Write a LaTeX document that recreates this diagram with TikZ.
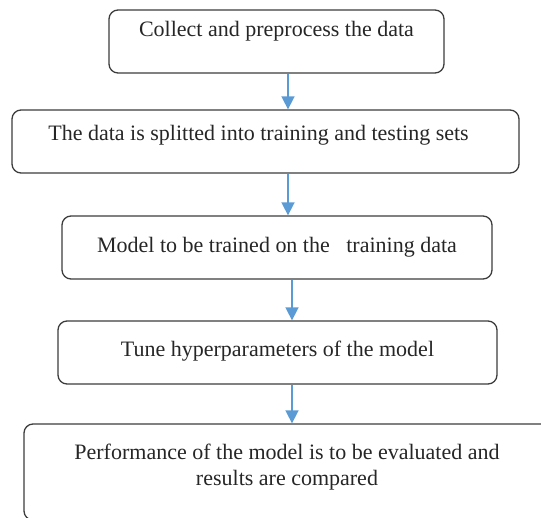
\documentclass[tikz,border=0pt]{standalone}
\usepackage{fontspec}
\setmainfont{Liberation Serif}
\usetikzlibrary{positioning,arrows.meta}
\definecolor{flowblue}{HTML}{5B9BD5}
\definecolor{boxgray}{HTML}{3C3C3C}
\definecolor{txtgray}{HTML}{262626}
\tikzset{
  procbox/.style={draw=boxgray,rounded corners=9pt,line width=1.3pt,
    minimum height=63pt,inner sep=0pt,text=txtgray,align=center,
    font=\fontsize{22}{26}\selectfont},
  flow/.style={-{Triangle[length=13pt,width=13pt]},draw=flowblue,
    line width=1.6pt},
}
\begin{document}
\begin{tikzpicture}[x=1pt,y=-1pt]
  \path[use as bounding box,clip] (0,0) rectangle (541,517);
  % the five steps
  \node[procbox,minimum width=335pt,text depth=25pt] (collect) at (276.5,41.5)
    {Collect and preprocess the data};
  \node[procbox,minimum width=507pt,text depth=17pt] (split) at (265.5,141.5)
    {The data is splitted into training and testing sets\hspace{14pt}};
  \node[procbox,minimum width=430pt] (train) at (277,247.5)
    {Model to be trained on the \ \ training data};
  \node[procbox,minimum width=439pt,text depth=7pt] (tune) at (277.5,352.5)
    {Tune hyperparameters of the model};
  \node[procbox,minimum width=526pt,minimum height=96pt,text depth=14pt]
    (evaluate) at (287,472)
    {Performance of the model is to be evaluated and\\results are compared};
  % arrows
  \draw[flow] ([xshift=11.5pt]collect.south) -- ([xshift=11.5pt]collect.south |- split.north);
  \draw[flow] ([xshift=22.5pt]split.south) -- ([xshift=22.5pt]split.south |- train.north);
  \draw[flow] ([xshift=15pt]train.south) -- ([xshift=15pt]train.south |- tune.north);
  \draw[flow] ([xshift=14.5pt]tune.south) -- ([xshift=14.5pt]tune.south |- evaluate.north);
\end{tikzpicture}
\end{document}
